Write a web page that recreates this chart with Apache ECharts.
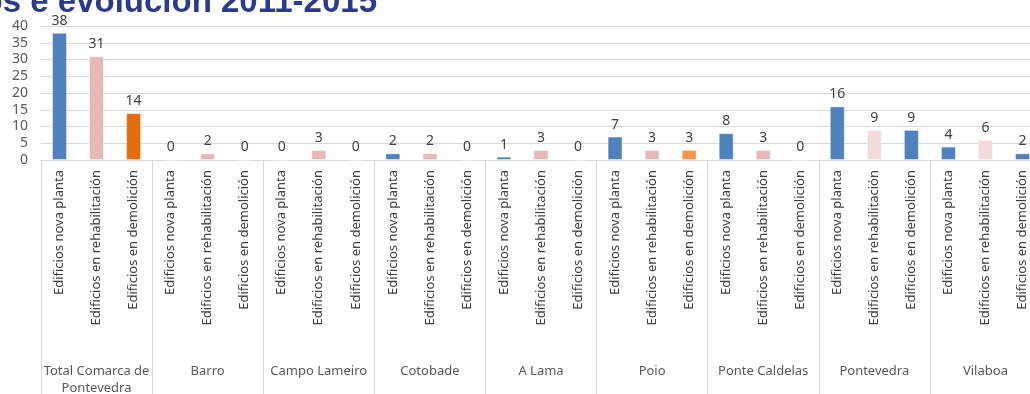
<!DOCTYPE html>
<html>
<head>
<meta charset="utf-8">
<script src="https://cdn.jsdelivr.net/npm/echarts@6/dist/echarts.min.js"></script>
<style>
    html, body { margin: 0; padding: 0; background: #fff; }
    #main { width: 1030px; height: 394px; }
</style>
</head>
<body>
<div id="main"></div>
<script>
// datos
var concellos = ['Total Comarca de\nPontevedra', 'Barro', 'Campo Lameiro', 'Cotobade', 'A Lama', 'Poio', 'Ponte Caldelas', 'Pontevedra', 'Vilaboa'];
var tipos = ['Edificios nova planta', 'Edificios en rehabilitación', 'Edificios en demolición'];
var novaPlanta = [38, 0, 0, 2, 1, 7, 8, 16, 4];
var rehabilitacion = [31, 2, 3, 2, 3, 3, 3, 9, 6];
var demolicion = [14, 0, 0, 0, 0, 3, 0, 9, 2];

// cores (Excel)
var coresTipo = ['#4f81bd', '#e6b9b8', '#e46c0a'];
var coresEspeciais = {
    'Poio-2': '#f79646',
    'Pontevedra-1': '#f2dcdb',
    'Pontevedra-2': '#4f81bd',
    'Vilaboa-1': '#f2dcdb',
    'Vilaboa-2': '#4f81bd'
};

var categorias = [];
var barras = [];
for (var i = 0; i < concellos.length; i++) {
    var vals = [novaPlanta[i], rehabilitacion[i], demolicion[i]];
    for (var j = 0; j < tipos.length; j++) {
        categorias.push(tipos[j]);
        var cor = coresEspeciais[concellos[i] + '-' + j] || coresTipo[j];
        barras.push({
            value: vals[j],
            itemStyle: {color: cor, borderColor: 'rgba(255,255,255,0.45)', borderWidth: 1}
        });
    }
}

var myChart = echarts.init(document.getElementById('main'));
var option = {
    animation: false,
    textStyle: {fontFamily: 'Noto Sans'},
    graphic: [{
        type: 'text',
        style: {
            text: 'Edificios construídos e evolución 2011-2015',
            x: 377,
            y: 19,
            align: 'right',
            verticalAlign: 'bottom',
            font: 'bold 33px "Liberation Sans"',
            fill: '#2b3a8c'
        }
    }],
    grid: {
        left: 41,
        right: -11,
        top: 26,
        bottom: 234,
        containLabel: false,
        outerBoundsMode: 'none'
    },
    xAxis: [{
        type: 'category',
        data: categorias,
        position: 'bottom',
        axisLine: {show: true, lineStyle: {color: '#d9d9d9'}},
        axisTick: {show: false},
        axisLabel: {
            interval: 0,
            rotate: 90,
            margin: 10,
            fontSize: 13,
            color: '#404040',
            fontFamily: 'Noto Sans'
        }
    }, {
        type: 'category',
        data: concellos,
        position: 'bottom',
        axisLine: {show: false},
        axisTick: {show: true, interval: 0, length: 240, lineStyle: {color: '#d9d9d9'}},
        axisLabel: {
            interval: 0,
            margin: 203,
            fontSize: 13,
            lineHeight: 17,
            color: '#595959',
            fontFamily: 'Noto Sans'
        }
    }],
    yAxis: {
        type: 'value',
        min: 0,
        max: 40,
        interval: 5,
        axisLine: {show: false},
        axisTick: {show: false},
        axisLabel: {fontSize: 14, color: '#595959', margin: 13, fontFamily: 'Noto Sans'},
        splitLine: {lineStyle: {color: '#d9d9d9'}}
    },
    series: [{
        type: 'bar',
        xAxisIndex: 0,
        barWidth: 15,
        data: barras,
        label: {
            show: true,
            position: 'top',
            distance: 5,
            fontSize: 14,
            color: '#404040',
            fontFamily: 'Noto Sans'
        }
    }]
};
myChart.setOption(option, true);
</script>
</body>
</html>
